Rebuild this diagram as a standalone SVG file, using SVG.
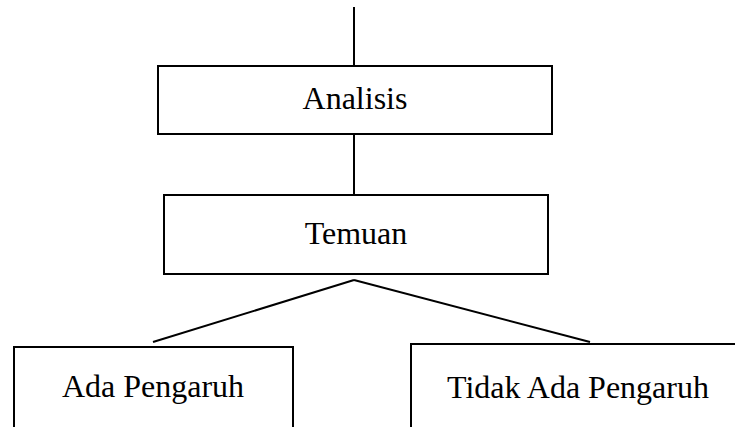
<svg xmlns="http://www.w3.org/2000/svg" width="735" height="427" viewBox="0 0 735 427">
<style>
.box{fill:#fff;stroke:#000;stroke-width:2}
.ln{stroke:#000;stroke-width:2;fill:none}
text{font-family:"Liberation Serif","Times New Roman",serif;font-size:32px;fill:#000;text-anchor:middle}
</style>
<rect width="735" height="427" fill="#fff"/>
<g id="connectors">
<line class="ln" x1="354" y1="7" x2="354" y2="66"/>
<line class="ln" x1="354" y1="134" x2="354" y2="195"/>
<line class="ln" x1="354" y1="280" x2="153" y2="342"/>
<line class="ln" x1="354" y1="280" x2="590" y2="342"/>
</g>
<g id="analisis">
<rect class="box" x="158" y="66" width="394" height="68"/>
<text x="355" y="109">Analisis</text>
</g>
<g id="temuan">
<rect class="box" x="164" y="195" width="384" height="79"/>
<text x="356" y="244">Temuan</text>
</g>
<g id="ada-pengaruh">
<rect class="box" x="14" y="347" width="279" height="100"/>
<text x="153" y="397">Ada Pengaruh</text>
</g>
<g id="tidak-ada-pengaruh">
<rect class="box" x="411" y="344" width="340" height="100"/>
<text x="578" y="398">Tidak Ada Pengaruh</text>
</g>
</svg>
